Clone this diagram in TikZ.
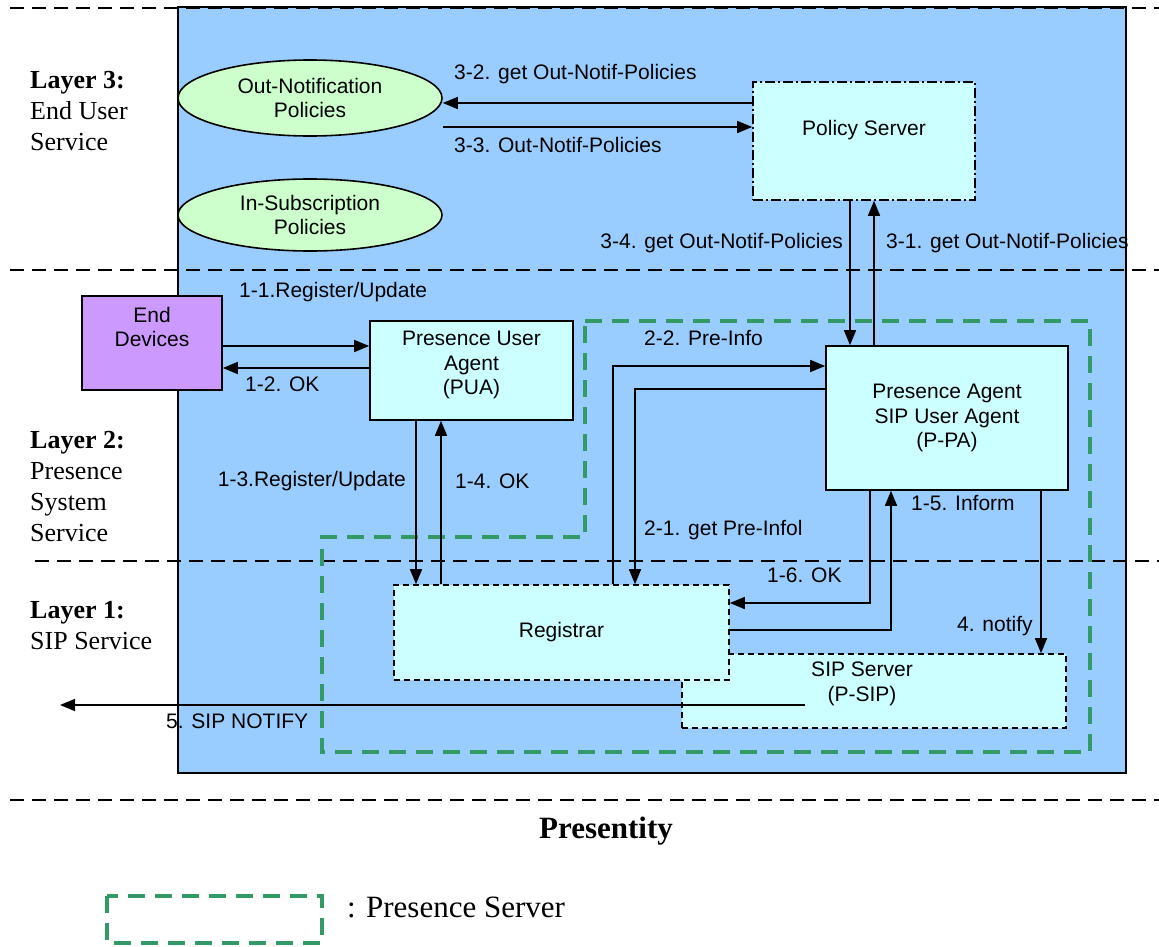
\documentclass[tikz,border=0pt]{standalone}
\usepackage{fontspec}
\setmainfont{Liberation Serif}
\setsansfont{Liberation Sans}
\usetikzlibrary{arrows.meta,shapes.geometric}
\definecolor{areablue}{HTML}{99CCFF}
\definecolor{boxcyan}{HTML}{CCFFFF}
\definecolor{devpurple}{HTML}{CC99FF}
\definecolor{polgreen}{HTML}{CCFFCC}
\definecolor{srvgreen}{HTML}{339966}
\begin{document}
\begin{tikzpicture}[x=1pt,y=-1pt,
  lbl/.style={font=\sffamily\fontsize{21}{24.5}\selectfont, inner sep=0pt, text height=15pt, text depth=4.5pt},
  mtxt/.style={font=\sffamily\fontsize{21}{24.5}\selectfont, inner sep=0pt, align=center},
  layertxt/.style={font=\fontsize{26}{31}\selectfont, inner sep=0pt, align=left, anchor=north west},
  solidbox/.style={draw=black, line width=1.6pt, fill=boxcyan},
  dashbox/.style={draw=black, line width=1.6pt, fill=boxcyan, dash pattern=on 6pt off 4pt},
  dotdashbox/.style={draw=black, line width=1.6pt, fill=boxcyan, dash pattern=on 10pt off 3pt on 2pt off 3pt},
  policy/.style={ellipse, draw=black, line width=1.6pt, fill=polgreen},
  layerline/.style={line width=2pt, dash pattern=on 14pt off 8pt},
  psrv/.style={draw=srvgreen, line width=4pt, dash pattern=on 17pt off 10pt},
  arr/.style={line width=1.5pt, -{Triangle[length=15pt,width=12pt]}}]
\useasboundingbox (0,0) rectangle (1159,947);

% system area
\draw[line width=2pt, fill=areablue] (178,7) rectangle (1126,773);

% layer separators
\draw[layerline] (10,8) -- (1159,8);
\draw[layerline] (10,270) -- (1159,270);
\draw[layerline] (35,561) -- (1159,561);
\draw[layerline] (10,800) -- (1159,800);

% presence server boundary
\draw[psrv] (585,321) -- (1090,321) -- (1090,752) -- (322,752) -- (322,537) -- (585,537) -- cycle;

% layer titles
\node[layertxt] (l3) at (30,71) {\textbf{Layer 3:}\\End User\\Service};
\node[layertxt] (l2) at (30,431) {\textbf{Layer 2:}\\Presence\\System\\Service};
\node[layertxt] (l1) at (30,601) {\textbf{Layer 1:}\\SIP Service};

% components
\node[policy, minimum width=264pt, minimum height=76pt, mtxt] (onp) at (310,98) {Out-Notification\\Policies};
\node[policy, minimum width=264pt, minimum height=72pt, mtxt] (isp) at (310,215) {In-Subscription\\Policies};
\node[dotdashbox, minimum width=222pt, minimum height=118pt] (ps) at (864,141) {};
\node[lbl] (pst) at (864,130) {Policy Server};
\node[draw=black, line width=1.6pt, fill=devpurple, minimum width=140pt, minimum height=94pt] (ed) at (152,343) {};
\node[mtxt] (edt) at (152,327) {End\\Devices};
\node[solidbox, minimum width=203pt, minimum height=99pt] (pua) at (471.5,370.5) {};
\node[mtxt] (puat) at (471.5,365) {Presence User\\Agent\\(PUA)};
\node[solidbox, minimum width=242pt, minimum height=144pt, mtxt] (ppa) at (947,418) {Presence Agent\\SIP User Agent\\(P-PA)};
\node[dashbox, minimum width=384pt, minimum height=74pt] (sip) at (874,691) {};
\node[mtxt] (sipt) at (862,684) {SIP Server\\(P-SIP)};
\node[dashbox, minimum width=335pt, minimum height=95pt, lbl] (reg) at (561.5,632.5) {Registrar};

% routing points
\coordinate (r32) at (0,103);
\coordinate (r33) at (0,127);
\coordinate (c34) at (850,0);
\coordinate (c31) at (874,0);
\coordinate (r11) at (0,346);
\coordinate (r12) at (0,368);
\coordinate (c13) at (416,0);
\coordinate (c14) at (441,0);
\coordinate (k22) at (613,366);
\coordinate (k21) at (635,389);
\coordinate (k16) at (870,603);
\coordinate (k15) at (891,630);
\coordinate (c4) at (1041,0);
\coordinate (n5a) at (805,705);
\coordinate (n5b) at (60,705);

% message flows
\draw[arr] (ps.west |- r32) -- (onp.east |- r32);
\draw[arr] (onp.east |- r33) -- (ps.west |- r33);
\draw[arr] (ps.south -| c34) -- (ppa.north -| c34);
\draw[arr] (ppa.north -| c31) -- (ps.south -| c31);
\draw[arr] (ed.east |- r11) -- (pua.west |- r11);
\draw[arr] (pua.west |- r12) -- (ed.east |- r12);
\draw[arr] (pua.south -| c13) -- (reg.north -| c13);
\draw[arr] (reg.north -| c14) -- (pua.south -| c14);
\draw[arr] (reg.north -| k22) -- (k22) -- (ppa.west |- k22);
\draw[arr] (ppa.west |- k21) -- (k21) -- (reg.north -| k21);
\draw[arr] (ppa.south -| k16) -- (k16) -- (reg.east |- k16);
\draw[arr] (reg.east |- k15) -- (k15) -- (ppa.south -| k15);
\draw[arr] (ppa.south -| c4) -- (sip.north -| c4);
\draw[arr] (n5a) -- (n5b);

% flow labels
\node[lbl, anchor=west] (t32) at (454,74) {3-2. get Out-Notif-Policies};
\node[lbl, anchor=west] (t33) at (454,147) {3-3. Out-Notif-Policies};
\node[lbl, anchor=east] (t34) at (843,243) {3-4. get Out-Notif-Policies};
\node[lbl, anchor=west] (t31) at (886,243) {3-1. get Out-Notif-Policies};
\node[lbl, anchor=west] (t11) at (239,292) {1-1.Register/Update};
\node[lbl, anchor=west] (t12) at (245,386) {1-2. OK};
\node[lbl, anchor=west] (t22) at (644,340) {2-2. Pre-Info};
\node[lbl, anchor=east] (t13) at (406,481) {1-3.Register/Update};
\node[lbl, anchor=west] (t14) at (455,483) {1-4. OK};
\node[lbl, anchor=west] (t21) at (644,530) {2-1. get Pre-Infol};
\node[lbl, anchor=west] (t15) at (911,505) {1-5. Inform};
\node[lbl, anchor=west] (t16) at (767,577) {1-6. OK};
\node[lbl, anchor=west] (t4) at (957,626) {4. notify};
\node[lbl, anchor=west] (t5) at (166,723) {5. SIP NOTIFY};

% caption and legend
\node[font=\bfseries\fontsize{31}{36}\selectfont, inner sep=0pt] (cap) at (606,831) {Presentity};
\draw[psrv] (107,896) rectangle (322,943);
\node[font=\fontsize{31}{36}\selectfont, inner sep=0pt, anchor=west] (leg) at (347,907) {: Presence Server};
\end{tikzpicture}
\end{document}
